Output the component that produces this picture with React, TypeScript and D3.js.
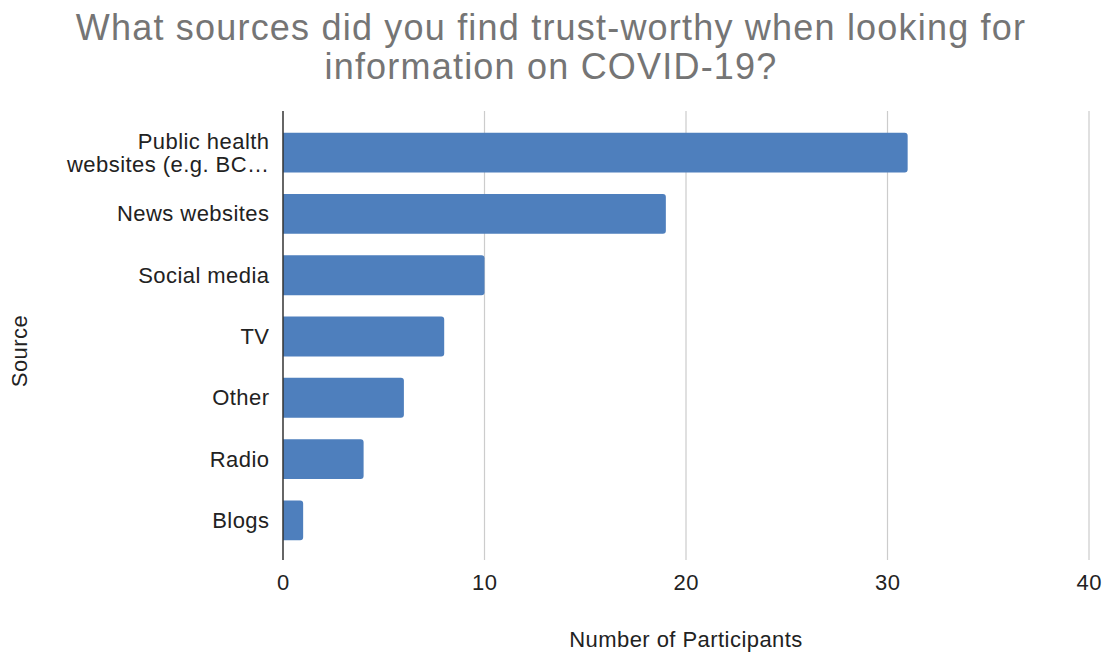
import React from "react";
import * as d3 from "d3";

const categories = [
  "Public health websites (e.g. BC…",
  "News websites",
  "Social media",
  "TV",
  "Other",
  "Radio",
  "Blogs",
];
const categoryLines: string[][] = [
  ["Public health", "websites (e.g. BC…"],
  ["News websites"],
  ["Social media"],
  ["TV"],
  ["Other"],
  ["Radio"],
  ["Blogs"],
];
const values = [31, 19, 10, 8, 6, 4, 1];
const xTicks = [0, 10, 20, 30, 40];
const titleLines = [
  "What sources did you find trust-worthy when looking for",
  "information on COVID-19?",
];
const xAxisTitle = "Number of Participants";
const yAxisTitle = "Source";

const W = 1109;
const H = 654;
const FONT = "'Liberation Sans', Arial, Helvetica, sans-serif";
const LS = 0.45;
const FS = 22;

function barPath(x0: number, y: number, w: number, h: number, r: number) {
  const rr = Math.min(r, w / 2, h / 2);
  const p = d3.path();
  p.moveTo(x0, y);
  p.lineTo(x0 + w - rr, y);
  p.arcTo(x0 + w, y, x0 + w, y + rr, rr);
  p.lineTo(x0 + w, y + h - rr);
  p.arcTo(x0 + w, y + h, x0 + w - rr, y + h, rr);
  p.lineTo(x0, y + h);
  p.closePath();
  return p.toString();
}

export default function App() {
  const x = d3.scaleLinear().domain([0, 40]).range([283, 1089]);
  const y = d3
    .scaleBand<string>()
    .domain(categories)
    .range([122, 551])
    .paddingInner(0.35)
    .paddingOuter(0.175);
  const plotTop = 111;
  const plotBottom = 560;

  return (
    <svg
      width={W}
      height={H}
      style={{ position: "absolute", left: 0, top: 0, background: "#fff" }}
      fontFamily={FONT}
    >
      <rect x={0} y={0} width={W} height={H} fill="#fff" />
      {titleLines.map((t, i) => (
        <text
          key={i}
          x={551}
          y={40 + i * 39}
          textAnchor="middle"
          fontSize={36}
          letterSpacing={1.2}
          fill="#757575"
        >
          {t}
        </text>
      ))}
      {xTicks.map((t) =>
        t === 0 ? null : (
          <line
            key={t}
            x1={x(t)}
            x2={x(t)}
            y1={plotTop}
            y2={plotBottom}
            stroke="#cccccc"
            strokeWidth={1.2}
          />
        )
      )}
      {categories.map((c, i) => (
        <path
          key={c}
          d={barPath(x(0), y(c)!, x(values[i]) - x(0), y.bandwidth(), 3)}
          fill="#4e7fbd"
        />
      ))}
      <line
        x1={x(0)}
        x2={x(0)}
        y1={plotTop}
        y2={plotBottom}
        stroke="#333333"
        strokeWidth={1.5}
      />
      {categories.map((c, i) => {
        const lines = categoryLines[i];
        const cy = y(c)! + y.bandwidth() / 2;
        const lh = 23;
        const start = cy + 7.5 - ((lines.length - 1) * lh) / 2;
        return (
          <text
            key={c}
            textAnchor="end"
            fontSize={FS}
            letterSpacing={LS}
            fill="#222"
          >
            {lines.map((l, j) => (
              <tspan key={j} x={269.5} y={start + j * lh}>
                {l}
              </tspan>
            ))}
          </text>
        );
      })}
      {xTicks.map((t) => (
        <text
          key={t}
          x={x(t) + LS / 2}
          y={590}
          textAnchor="middle"
          fontSize={FS}
          letterSpacing={LS}
          fill="#222"
        >
          {t}
        </text>
      ))}
      <text
        x={686}
        y={647}
        textAnchor="middle"
        fontSize={FS}
        letterSpacing={LS}
        fill="#222"
      >
        {xAxisTitle}
      </text>
      <text
        transform={`translate(27,351) rotate(-90)`}
        textAnchor="middle"
        fontSize={FS}
        letterSpacing={LS}
        fill="#222"
      >
        {yAxisTitle}
      </text>
    </svg>
  );
}
